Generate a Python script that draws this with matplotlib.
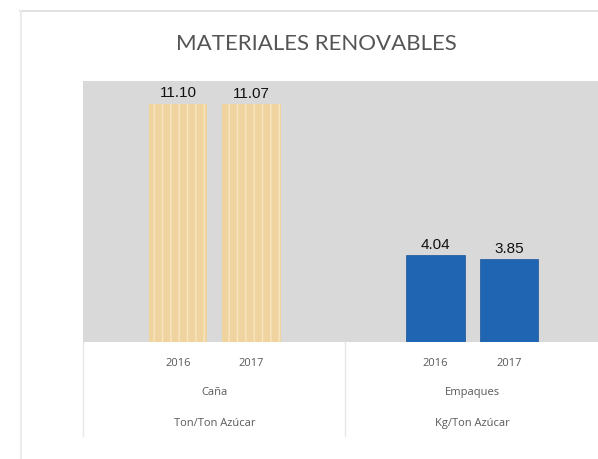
import numpy as np
import matplotlib
matplotlib.use('Agg')
from matplotlib import pyplot as plt
from matplotlib.lines import Line2D

# data
years = ['2016', '2017']
groups = ['Caña', 'Empaques']
units = ['Ton/Ton Azúcar', 'Kg/Ton Azúcar']
cana = [11.10, 11.07]
empaques = [4.04, 3.85]

plt.rcParams['hatch.color'] = '#f7e6c0'
plt.rcParams['hatch.linewidth'] = 1.0

fig = plt.figure(figsize=(5.98, 4.60), dpi=100)
fig.patch.set_facecolor('white')

# faint outer frame of the chart box
fig.add_artist(Line2D([20/598, 1], [1 - 12/460, 1 - 12/460], color='#dcdcdc', lw=1.2))
fig.add_artist(Line2D([21/598, 21/598], [1 - 12/460, 0], color='#ebebeb', lw=1.5))

left = 83
ax = fig.add_axes([left/598, 1 - 343/460, 1 - left/598, (343 - 82)/460])
ax.set_facecolor('#d9d9d9')

x1 = np.array([0, 1])
x2 = np.array([3.5, 4.5])
w = 0.8

b1 = ax.bar(x1, cana, width=w, color='#efd49f', hatch='||', lw=0)
b2 = ax.bar(x2, empaques, width=w, color='#1f65b2', edgecolor='#1a569a', lw=0.5)

for bars in (b1, b2):
    ax.bar_label(bars, fmt='%.2f', padding=3, fontsize=11, family='Liberation Sans', color='#111111')

xl = (left - 178) / 73.5
ax.set_xlim(xl, 5.71)
ax.set_ylim(0, 12.15)
ax.set_xticks([])
ax.set_yticks([])
for s in ax.spines.values():
    s.set_visible(False)

# category labels below the plot
tr = ax.get_xaxis_transform()
lbl = dict(ha='center', va='center', fontsize=8, color='#595959', family='Open Sans', transform=tr, clip_on=False)
for xs in (x1, x2):
    for x, y in zip(xs, years):
        ax.text(x, -0.077, y, **lbl)
for xs, g, u in zip((x1, x2), groups, units):
    ax.text(xs.mean(), -0.19, g, **lbl)
    ax.text(xs.mean(), -0.31, u, **lbl)

for sx in (xl, 2.27):
    ax.plot([sx, sx], [0, -0.36], color='#e6e6e6', lw=1, transform=tr, clip_on=False)

fig.text(316/598, 1 - 44/460, 'MATERIALES RENOVABLES', ha='center', va='center',
         fontsize=16, color='#555555', family='Lato')

fig.savefig('out.png', dpi=100)
